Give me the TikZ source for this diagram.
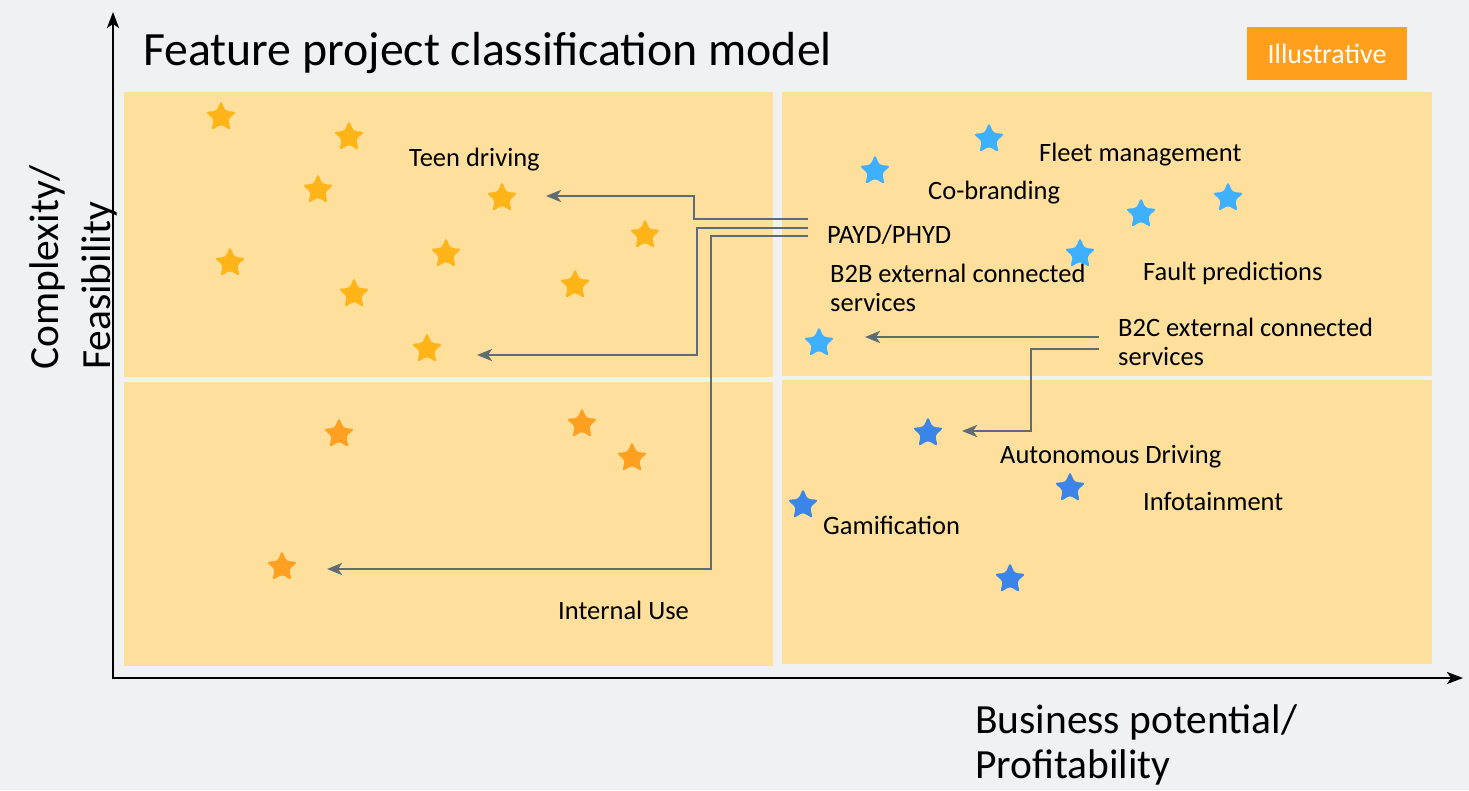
\documentclass[tikz,border=0pt]{standalone}
\usepackage{fontspec}
\setmainfont{Carlito}
\usetikzlibrary{shapes.geometric,arrows.meta}
\definecolor{bgc}{RGB}{240,241,243}
\definecolor{quadc}{RGB}{254,223,156}
\definecolor{ystar}{RGB}{255,181,23}
\definecolor{ostar}{RGB}{255,160,32}
\definecolor{lbstar}{RGB}{63,176,255}
\definecolor{bstar}{RGB}{59,132,232}
\definecolor{linec}{RGB}{95,107,117}
\definecolor{badgec}{RGB}{255,159,28}
\tikzset{
  st/.style={star, star points=5, star point ratio=2.2, minimum size=33pt, inner sep=0pt, rounded corners=3pt, draw=none},
  ys/.style={st, fill=ystar},
  os/.style={st, fill=ostar},
  lbs/.style={st, fill=lbstar},
  bs/.style={st, fill=bstar},
  lab/.style={font=\fontsize{26.5}{28.5}\selectfont, anchor=base west, inner sep=0pt, align=left},
  axlab/.style={font=\fontsize{41.5}{45}\selectfont, anchor=base west, inner sep=0pt, align=left},
  conn/.style={draw=linec, line width=2.8pt, -{Stealth[length=15pt,width=12pt,inset=4pt]}},
  axis/.style={draw=black, line width=2.5pt, -{Stealth[length=16pt,width=12pt,inset=4pt]}},
  quad/.style={fill=quadc}
}
\begin{document}
\begin{tikzpicture}[x=1pt,y=-1pt]
\fill[bgc] (0,0) rectangle (1469,790);
\useasboundingbox (0,0) rectangle (1469,790);
% quadrants
\fill[quad] (124,92) rectangle (773,377);
\fill[quad] (782,92) rectangle (1432,376);
\fill[quad] (124,382) rectangle (773,666);
\fill[quad] (782,380) rectangle (1432,664);
% axes
\coordinate (origin) at (113,678);
\coordinate (ytop) at (113,12);
\coordinate (xend) at (1463,678);
\draw[axis] (origin) -- (ytop);
\draw[axis] ([xshift=-1.25pt]origin) -- (xend);
% title & badge
\node[font=\fontsize{47.8}{50}\selectfont, anchor=base west, inner sep=0pt] (title) at (143,65) {Feature project classification model};
\node[fill=badgec, text=white, minimum width=160pt, minimum height=53pt, inner sep=0pt, font=\fontsize{28}{30}\selectfont] (badge) at (1327,53.5) {Illustrative};
% axis labels
\node[axlab, font=\fontsize{41.5}{52}\selectfont, rotate=90] (ylab) at (110,370) {Complexity/\\Feasibility};
\node[axlab] (xlab) at (975,778) {Business potential/\\Profitability};
% stars top-left
\node[ys] (y1) at (221,117) {};
\node[ys] (y2) at (349,137) {};
\node[ys] (y3) at (318,190) {};
\node[ys] (y4) at (502,198) {};
\node[ys] (y5) at (645,235) {};
\node[ys] (y6) at (230,263) {};
\node[ys] (y7) at (446,254) {};
\node[ys] (y8) at (354,294) {};
\node[ys] (y9) at (575,285) {};
\node[ys] (y10) at (427,349) {};
% stars bottom-left
\node[os] (o1) at (339,434) {};
\node[os] (o2) at (582,424) {};
\node[os] (o3) at (632,458) {};
\node[os] (o4) at (282,567) {};
% stars top-right
\node[lbs] (l1) at (989,139) {};
\node[lbs] (l2) at (875,171) {};
\node[lbs] (l3) at (1141,214) {};
\node[lbs] (l4) at (1228,198) {};
\node[lbs] (l5) at (1080,254) {};
\node[lbs] (l6) at (819,343) {};
% stars bottom-right
\node[bs] (b1) at (928,433) {};
\node[bs] (b2) at (1070,488) {};
\node[bs] (b3) at (803,505) {};
\node[bs] (b4) at (1010,579) {};
% labels
\node[lab] (teen) at (409,166) {Teen driving};
\node[lab] (fleet) at (1039,161) {Fleet management};
\node[lab] (cobr) at (928,199) {Co-branding};
\node[lab] (payd) at (827,243) {PAYD/PHYD};
\node[lab] (fault) at (1143,280) {Fault predictions};
\node[lab] (b2b) at (830,311) {B2B external connected\\services};
\node[lab] (b2c) at (1118,365) {B2C external connected\\services};
\node[lab] (auton) at (1000,463) {Autonomous Driving};
\node[lab] (info) at (1143,510) {Infotainment};
\node[lab] (gami) at (823,534) {Gamification};
\node[lab] (intern) at (558,619) {Internal Use};
% connector ends
\coordinate (pa) at (808,219);
\coordinate (pb) at (808,228);
\coordinate (pc) at (808,236);
\coordinate (qa) at (1099,337);
\coordinate (qb) at (1099,349);
\coordinate (ta) at (546,196);
\coordinate (tb) at (477,355);
\coordinate (tc) at (327,569);
\coordinate (td) at (865,337);
\coordinate (te) at (962,431);
% connectors
\draw[conn] (pa) -- ++(-114,0) |- (ta);
\draw[conn] (pb) -- ++(-111,0) |- (tb);
\draw[conn] (pc) -- ++(-97,0) |- (tc);
\draw[conn] (qa) -- (td);
\draw[conn] (qb) -- ++(-68,0) |- (te);
\end{tikzpicture}
\end{document}
